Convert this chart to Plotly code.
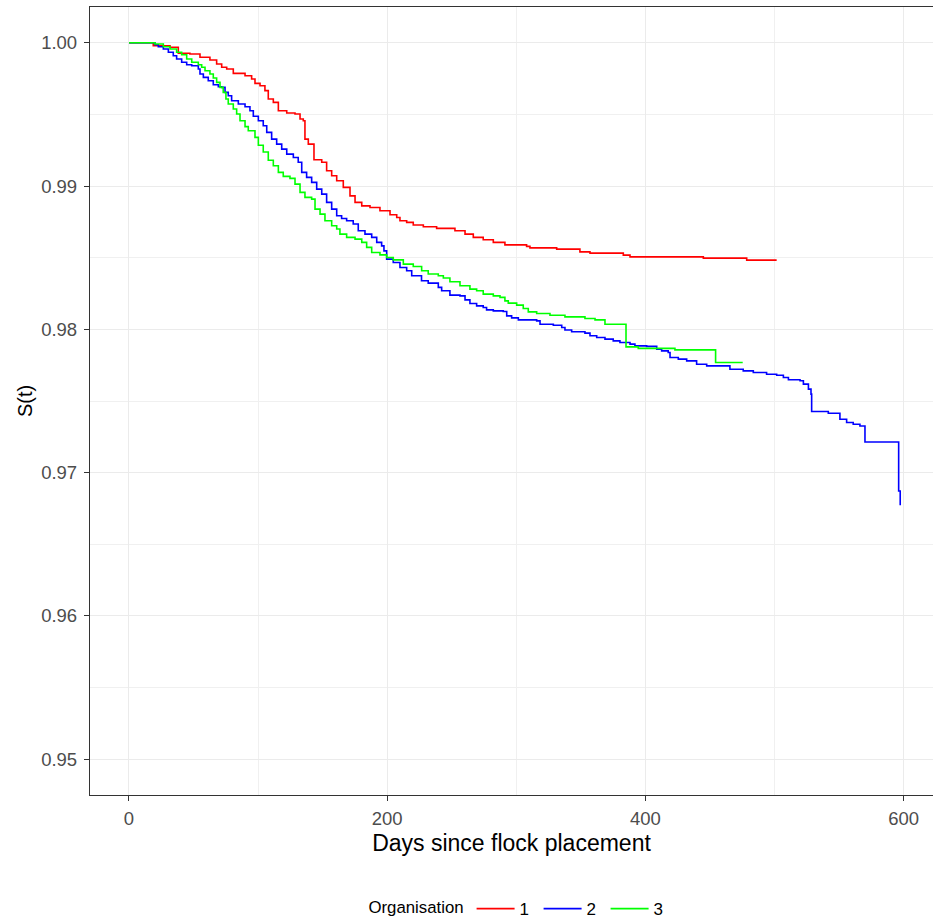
import plotly.graph_objects as go

# Kaplan-Meier step points (day, S(t))
org1_steps = [
    (0, 1.0), (18.8, 0.9998), (31.8, 0.99969), (38.2, 0.99927), (47.2, 0.99922),
    (55, 0.99899), (62.7, 0.9988), (67.9, 0.99852), (71.8, 0.99829), (75.7, 0.99817),
    (80.8, 0.99787), (89.9, 0.9977), (95, 0.99747), (97.6, 0.99717), (101.5, 0.997),
    (105.3, 0.99666), (107.9, 0.99608), (111.8, 0.99584), (115.7, 0.99526), (122.2, 0.9951),
    (128.6, 0.99503), (132.5, 0.99468), (135, 0.99456), (136.3, 0.99328), (138.9, 0.99293),
    (143.3, 0.99184), (149.3, 0.99166), (153.1, 0.99107), (157, 0.99072), (160.9, 0.99037),
    (166, 0.98991), (171.2, 0.98932), (175.1, 0.98886), (180.3, 0.98862), (186.7, 0.98851),
    (194.4, 0.98828), (202.2, 0.988), (207.4, 0.98781), (209.9, 0.98758), (215.1, 0.98747),
    (220.2, 0.98728), (228, 0.98716), (238.3, 0.98705), (252.5, 0.98688), (260.3, 0.98665),
    (266.7, 0.98642), (274.4, 0.98625), (282.2, 0.98607), (291.2, 0.9859), (308, 0.98579),
    (310.6, 0.98569), (331.3, 0.9856), (349.3, 0.98541), (357.1, 0.98532), (382.9, 0.98518),
    (388.1, 0.98506), (444.9, 0.98497), (478.5, 0.98483), (501.7, 0.98483),
]

org2_steps = [
    (0, 1.0), (20.1, 0.99987), (22.7, 0.99973), (26.6, 0.99957), (30.5, 0.99934),
    (34.3, 0.9991), (36.9, 0.99887), (40.8, 0.99864), (44.7, 0.99847), (48.6, 0.9984),
    (53.7, 0.99817), (55, 0.99782), (57.6, 0.99759), (61.4, 0.99735), (65.3, 0.99707),
    (69.2, 0.99693), (71.8, 0.99689), (74.4, 0.99654), (76.9, 0.99631), (79.5, 0.99596),
    (84.7, 0.99573), (89.9, 0.99554), (93.7, 0.99526), (96.3, 0.99487), (100.2, 0.99456),
    (104, 0.99421), (106.7, 0.99375), (110.5, 0.99328), (114.4, 0.99293), (118.3, 0.99258),
    (122.2, 0.99223), (127.3, 0.992), (131.1, 0.99166), (133.8, 0.99096), (137.6, 0.99061),
    (141.5, 0.99026), (145.4, 0.98979), (149.3, 0.98944), (153.1, 0.98886), (157, 0.98839),
    (160.9, 0.98793), (164.7, 0.98774), (168.6, 0.98758), (173.7, 0.98735), (177.6, 0.98688),
    (182.8, 0.98665), (188, 0.98642), (191.9, 0.98607), (195.7, 0.98583), (197.5, 0.98548),
    (199.6, 0.9849), (204.7, 0.98467), (209.9, 0.98432), (215.1, 0.98409), (219, 0.98374),
    (226.6, 0.98339), (231.8, 0.98323), (239.6, 0.98293), (242.2, 0.98269), (248.6, 0.98239),
    (256.4, 0.98234), (260.3, 0.98206), (264.1, 0.98181), (269.3, 0.98164), (274.4, 0.98153),
    (277, 0.98136), (282.2, 0.98129), (289.9, 0.98125), (292.6, 0.98094), (296.4, 0.9808),
    (301.6, 0.98066), (315.8, 0.98059), (318.4, 0.98036), (328.7, 0.98029), (335.2, 0.98013),
    (337.7, 0.97996), (342.9, 0.97983), (353.2, 0.97974), (357.1, 0.97955), (362.3, 0.97943),
    (368.7, 0.97932), (375.1, 0.9792), (380.3, 0.97908), (388.1, 0.97897), (391.9, 0.97885),
    (401, 0.97881), (408.8, 0.97862), (412.6, 0.9785), (417.7, 0.97839), (419.1, 0.97804),
    (425.5, 0.97792), (432, 0.9778), (439.7, 0.97757), (447.5, 0.97745), (465.5, 0.97722),
    (475.8, 0.9771), (483.6, 0.97699), (493.9, 0.97687), (501.7, 0.9768), (506.9, 0.97664),
    (510.8, 0.97648), (519.8, 0.97641), (522.4, 0.97618), (526.3, 0.97583), (528.3, 0.97548),
    (528.8, 0.97427), (541.7, 0.97415), (550.7, 0.97373), (555.9, 0.9735), (561, 0.97338),
    (566.2, 0.97326), (570.1, 0.97214), (596.2, 0.96872), (597.4, 0.96772),
]

org3_steps = [
    (0, 1.0), (20.1, 0.99992), (26.6, 0.99973), (31.8, 0.99957), (36.9, 0.99934),
    (40.8, 0.99917), (44.7, 0.99887), (48.6, 0.99864), (53.7, 0.99847), (56.3, 0.99829),
    (58.9, 0.99805), (62.7, 0.99782), (65.3, 0.99754), (67.9, 0.99724), (70.5, 0.99689),
    (73, 0.99654), (75.1, 0.99608), (76.9, 0.99573), (80.8, 0.99538), (83.4, 0.99503),
    (86, 0.99456), (89.9, 0.99415), (92.4, 0.99386), (97.6, 0.9934), (100.2, 0.99285),
    (104, 0.99238), (107.9, 0.9918), (111.8, 0.99142), (115.7, 0.99096), (119.5, 0.99068),
    (124.7, 0.99054), (128.6, 0.99014), (132.5, 0.98956), (136.3, 0.98921), (141.5, 0.98909),
    (144.1, 0.98839), (148, 0.98804), (151.8, 0.98758), (157, 0.98723), (160.9, 0.987),
    (163.4, 0.98665), (168.6, 0.98642), (175.1, 0.9863), (180.3, 0.98607), (184.1, 0.98572),
    (188, 0.98537), (194.4, 0.9852), (199.6, 0.98502), (204.7, 0.98485), (212.5, 0.98455),
    (220.2, 0.98439), (226.7, 0.98409), (231.8, 0.98386), (239.6, 0.98374), (243.5, 0.98358),
    (248.6, 0.98332), (256.4, 0.98304), (264.1, 0.98281), (269.3, 0.98269), (274.4, 0.98246),
    (282.2, 0.98234), (287.4, 0.98223), (291.2, 0.98199), (293.8, 0.98183), (300.3, 0.98169),
    (305.4, 0.98146), (309.3, 0.98122), (315.8, 0.98111), (326.1, 0.98099), (337.7, 0.98087),
    (353.2, 0.98076), (361, 0.98066), (368.7, 0.98036), (385, 0.97878), (394.5, 0.97867),
    (422.9, 0.97857), (454.4, 0.97769), (475.4, 0.97769),
]

series_names = ["1", "2", "3"]
series_colors = ["#FF0000", "#0000FF", "#00FF00"]
series_steps = [org1_steps, org2_steps, org3_steps]

x_ticks = [0, 200, 400, 600]
y_ticks = [0.95, 0.96, 0.97, 0.98, 0.99, 1.00]
y_tick_labels = ["0.95", "0.96", "0.97", "0.98", "0.99", "1.00"]

fig = go.Figure()
for name, color, steps in zip(series_names, series_colors, series_steps):
    days = [d for d, _ in steps]
    surv = [s for _, s in steps]
    fig.add_trace(go.Scatter(
        x=days, y=surv, mode="lines", name=name,
        line=dict(color=color, width=1.6, shape="hv"),
    ))

FONT = "Liberation Sans, Arial, sans-serif"
axis_font = dict(family=FONT, size=18.5, color="#4d4d4d")

fig.update_layout(
    width=933, height=921,
    margin=dict(l=90, r=0, t=7, b=126),
    paper_bgcolor="white", plot_bgcolor="white",
    font=dict(family=FONT, color="black"),
    showlegend=True,
    legend=dict(
        orientation="h", x=0.51, xanchor="center",
        yref="container", y=0.013, yanchor="middle",
        title=dict(text="Organisation", font=dict(family=FONT, size=16.8, color="black"), side="left"),
        font=dict(family=FONT, size=17, color="black"),
        itemwidth=38,
        entrywidth=14, entrywidthmode="pixels",
    ),
)

fig.update_xaxes(
    range=[-30.2, 622.8],
    tickvals=x_ticks, ticktext=[str(v) for v in x_ticks],
    tickfont=axis_font, ticks="outside", ticklen=5, tickcolor="#333333", tickwidth=1.2,
    ticklabelstandoff=2,
    showgrid=True, gridcolor="#ebebeb", gridwidth=1.4,
    minor=dict(tickvals=[100, 300, 500], showgrid=True, gridcolor="#f0f0f0", gridwidth=1, ticks=""),
    showline=True, linecolor="#333333", linewidth=1.3, mirror=True,
    zeroline=False,
    title=dict(text="Days since flock placement", font=dict(family=FONT, size=23, color="black"), standoff=6),
)
fig.update_yaxes(
    range=[0.9475, 1.0025],
    tickvals=y_ticks, ticktext=y_tick_labels,
    tickfont=axis_font, ticks="outside", ticklen=5, tickcolor="#333333", tickwidth=1.2,
    ticklabelstandoff=3,
    showgrid=True, gridcolor="#ebebeb", gridwidth=1.4,
    minor=dict(tickvals=[0.955, 0.965, 0.975, 0.985, 0.995], showgrid=True, gridcolor="#f0f0f0", gridwidth=1, ticks=""),
    showline=True, linecolor="#333333", linewidth=1.3, mirror=False,
    zeroline=False,
    title=dict(text="S(t)", font=dict(family=FONT, size=20, color="black"), standoff=3),
)

fig.write_html("out.html")
